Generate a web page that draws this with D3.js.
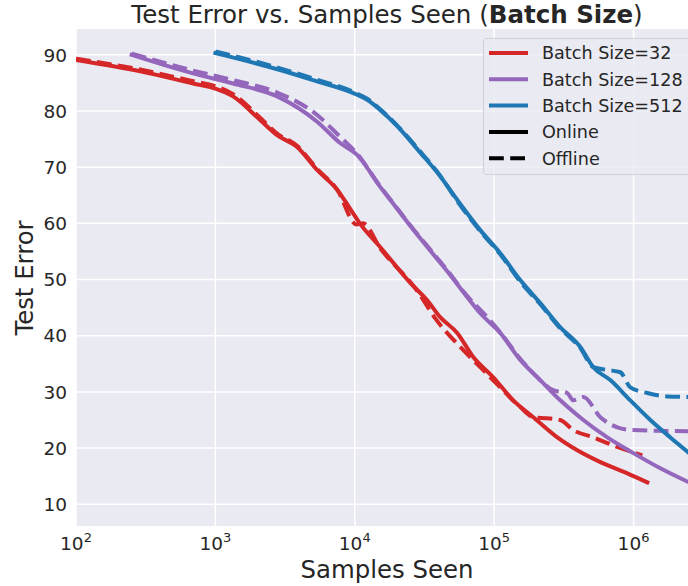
<html>
  <head>
        <meta charset="utf-8">
        <title>Test Error vs. Samples Seen</title>
        <style>
          body { margin: 0; background: #fff; }
          text { font-family: "DejaVu Sans", sans-serif; fill: #262626; }
        </style>
  </head>
    <body>
        <script src="https://cdn.jsdelivr.net/npm/d3@7"></script>
        <script>
        // samples seen (x) and test error (y) per run
        var bs32OnX   = [100, 300, 692, 1000, 1340, 2094, 2773, 3857, 5370, 7477, 9270, 10940, 15210, 25000, 33100, 41000, 54300, 70800, 98600, 137000, 191000, 284000, 395000, 578000, 903000, 1256000];
        var bs32OnY   = [89.1, 87.0, 84.9, 84.0, 82.6, 78.4, 75.7, 73.6, 69.5, 66.0, 62.6, 59.9, 55.8, 49.4, 46.3, 43.3, 40.5, 36.2, 32.6, 28.5, 25.5, 21.9, 19.6, 17.5, 15.5, 13.9];
        var bs32OffX  = [100, 300, 692, 1000, 1340, 2094, 2773, 3857, 5370, 7477, 10300, 11480, 15210, 28050, 37800, 57100, 79500, 110600, 153900, 191000, 240500, 298300, 369800, 514400, 765000, 1156000];
        var bs32OffY  = [89.3, 87.3, 85.3, 84.4, 83.0, 78.8, 76.0, 73.8, 69.7, 66.0, 59.8, 60.0, 55.6, 48.0, 43.1, 38.0, 34.4, 30.8, 27.3, 25.5, 25.3, 25.0, 23.2, 21.9, 20.2, 18.7];

        var bs128OnX  = [251, 692, 1340, 2773, 5370, 7855, 10400, 15210, 17950, 26240, 36550, 48400, 60000, 79500, 110600, 153900, 214300, 298300, 436400, 648600, 998000, 1557000, 2600000];
        var bs128OnY  = [90.0, 86.7, 84.9, 82.6, 78.1, 74.3, 72.2, 66.5, 64.2, 58.9, 54.5, 50.8, 47.8, 44.0, 40.5, 35.7, 32.1, 28.5, 25.0, 21.9, 19.1, 16.4, 13.7];
        var bs128OffX = [251, 692, 1340, 2773, 5370, 7855, 10400, 15210, 17950, 26240, 36550, 48400, 60000, 89200, 110600, 153900, 191000, 265500, 334800, 369800, 436400, 578000, 765000, 998000, 2600000];
        var bs128OffY = [90.2, 87.2, 85.5, 83.3, 79.3, 75.4, 72.4, 66.6, 64.3, 59.0, 54.7, 51.0, 47.9, 43.3, 40.6, 35.9, 33.3, 30.3, 29.8, 28.5, 29.1, 25.5, 23.7, 23.2, 23.0];

        var bs512OnX  = [1000, 2914, 5024, 10400, 12270, 15210, 20000, 29500, 41000, 54300, 79500, 110600, 153900, 214300, 298300, 415000, 514400, 681000, 948000, 1320000, 1837000, 2600000];
        var bs512OnY  = [90.3, 87.3, 85.5, 82.9, 82.0, 80.2, 77.4, 72.6, 68.4, 64.2, 58.8, 54.7, 49.9, 45.8, 41.5, 38.0, 34.4, 32.1, 28.5, 25.0, 21.9, 18.8];
        var bs512OffX = [1000, 2914, 5024, 10400, 12270, 15210, 20000, 29500, 41000, 54300, 79500, 110600, 153900, 214300, 298300, 415000, 514400, 648600, 803500, 948000, 1256000, 1750000, 2600000];
        var bs512OffY = [90.6, 87.6, 85.8, 83.1, 82.2, 80.3, 77.5, 72.8, 68.5, 64.0, 58.6, 54.5, 49.6, 45.6, 41.3, 37.8, 34.4, 33.9, 33.5, 30.8, 29.8, 29.2, 29.1];

        var legendLabels = ["Batch Size=32", "Batch Size=128", "Batch Size=512", "Online", "Offline"];
        var xTicks = [1e2, 1e3, 1e4, 1e5, 1e6];
        var yTicks = [10, 20, 30, 40, 50, 60, 70, 80, 90];

        var width = 688;
        var height = 586;
        var colors = ["#d62728", "#9467bd", "#1f77b4"];

        var series = [
          {x: bs32OnX,   y: bs32OnY,   c: 0, dash: false},
          {x: bs32OffX,  y: bs32OffY,  c: 0, dash: true},
          {x: bs128OnX,  y: bs128OnY,  c: 1, dash: false},
          {x: bs128OffX, y: bs128OffY, c: 1, dash: true},
          {x: bs512OnX,  y: bs512OnY,  c: 2, dash: false},
          {x: bs512OffX, y: bs512OffY, c: 2, dash: true}
        ];

        var svg = d3.select('body')
          .append('svg')
          .attr('width', width).attr('height', height);

        var padding = {left: 76, right: 0, top: 29, bottom: 60};

        var xScale = d3.scaleLog()
          .domain([1e2, 2.5e6])
          .range([padding.left, width - padding.right + 1]);

        var yScale = d3.scaleLinear()
          .domain([6.13, 94.6])
          .range([height - padding.bottom, padding.top]);

        svg.append('defs').append('clipPath').attr('id', 'plotclip')
          .append('rect')
          .attr('x', padding.left).attr('y', padding.top)
          .attr('width', width - padding.left).attr('height', height - padding.bottom - padding.top);

        // background + grid
        svg.append('rect')
          .attr('x', padding.left).attr('y', padding.top)
          .attr('width', width - padding.left)
          .attr('height', height - padding.bottom - padding.top)
          .attr('fill', '#eaeaf2');

        svg.append('g')
          .selectAll('line').data(yTicks).enter().append('line')
          .attr('x1', padding.left).attr('x2', width)
          .attr('y1', d => yScale(d)).attr('y2', d => yScale(d))
          .attr('stroke', '#fff').attr('stroke-width', 1.5);

        svg.append('g')
          .selectAll('line').data(xTicks).enter().append('line')
          .attr('x1', d => xScale(d)).attr('x2', d => xScale(d))
          .attr('y1', padding.top).attr('y2', height - padding.bottom)
          .attr('stroke', '#fff').attr('stroke-width', 1.5);

        // y tick labels
        svg.append('g')
          .selectAll('text').data(yTicks).enter().append('text')
          .attr('x', 67).attr('y', d => yScale(d))
          .attr('dy', '0.36em')
          .attr('text-anchor', 'end')
          .style('font-size', '18.5px')
          .text(d => d);

        // x tick labels 10^n
        var xl = svg.append('g')
          .selectAll('text').data(xTicks).enter().append('text')
          .attr('x', d => xScale(d)).attr('y', 550)
          .attr('text-anchor', 'middle')
          .style('font-size', '18.5px');
        xl.append('tspan').text('10');
        xl.append('tspan').attr('dy', -8).style('font-size', '13px')
          .text(d => Math.round(Math.log10(d)));

        // lines
        var line = d3.line()
          .x(d => d[0])
          .y(d => d[1])
          .curve(d3.curveMonotoneX);

        svg.append('g').attr('clip-path', 'url(#plotclip)')
          .selectAll('path').data(series).enter().append('path')
          .attr('d', s => line(s.x.map((v, i) => [xScale(v), yScale(s.y[i])])))
          .attr('fill', 'none')
          .attr('stroke', s => colors[s.c])
          .attr('stroke-width', 4)
          .attr('stroke-dasharray', s => s.dash ? '14.8,6.4' : null)
          .attr('stroke-linejoin', 'round')
          .attr('stroke-linecap', s => s.dash ? 'butt' : 'square');

        // title
        var title = svg.append('text')
          .attr('x', 387).attr('y', 23)
          .attr('text-anchor', 'middle')
          .style('font-size', '24.5px');
        title.append('tspan').text('Test Error vs. Samples Seen (');
        title.append('tspan').style('font-weight', 'bold').text('Batch Size');
        title.append('tspan').text(')');

        svg.append('text')
          .attr('x', 387).attr('y', 578)
          .attr('text-anchor', 'middle')
          .style('font-size', '24.4px')
          .text('Samples Seen');

        svg.append('text')
          .attr('transform', 'translate(33,278) rotate(-90)')
          .attr('text-anchor', 'middle')
          .style('font-size', '24.4px')
          .text('Test Error');

        // legend
        var leg = svg.append('g');
        leg.append('rect')
          .attr('x', 483.5).attr('y', 38.5)
          .attr('width', 220).attr('height', 136)
          .attr('rx', 3)
          .attr('fill', '#eaeaf2').attr('fill-opacity', 0.8)
          .attr('stroke', '#d0d0d8').attr('stroke-width', 1);

        var rows = leg.selectAll('g.row').data(legendLabels).enter().append('g')
          .attr('class', 'row')
          .attr('transform', (d, i) => 'translate(0,' + (53 + i * 26.3) + ')');
        rows.append('line')
          .attr('x1', 489).attr('x2', 528)
          .attr('stroke', (d, i) => i < 3 ? colors[i] : '#000')
          .attr('stroke-width', 4)
          .attr('stroke-dasharray', (d, i) => i === 4 ? '14.8,6.4' : null);
        rows.append('text')
          .attr('x', 542).attr('dy', '0.36em')
          .style('font-size', '17.6px')
          .text(d => d);
        </script>
    </body>
</html>
